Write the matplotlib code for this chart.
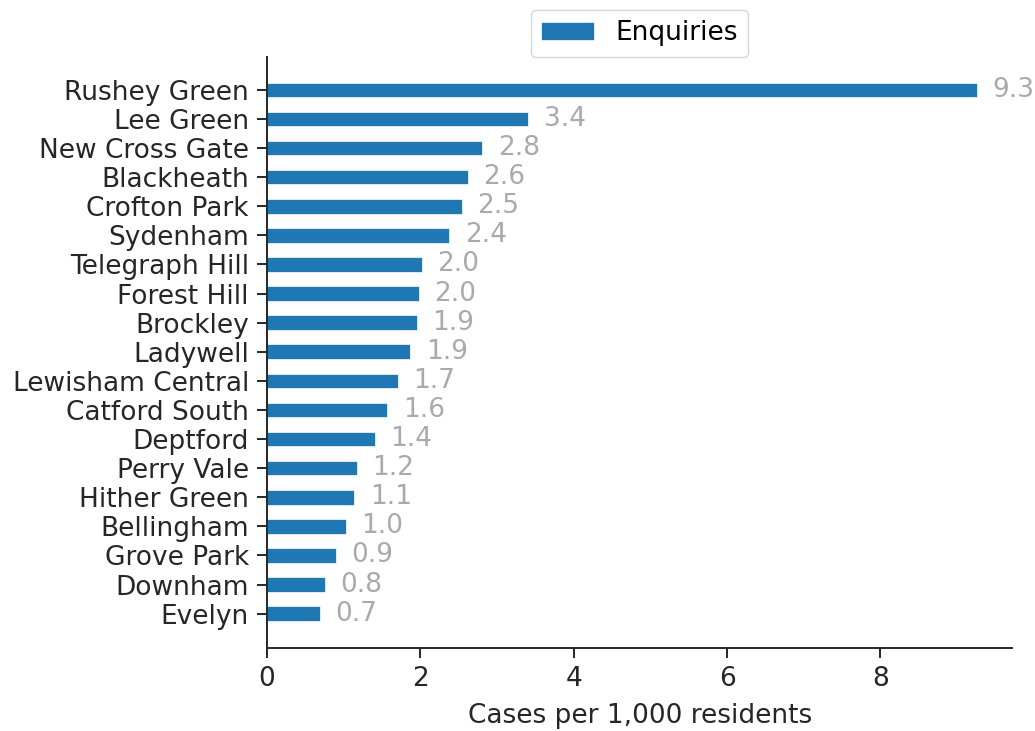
import matplotlib
matplotlib.use("Agg")
import matplotlib.pyplot as plt
import numpy as np

wards = ['Rushey Green', 'Lee Green', 'New Cross Gate', 'Blackheath', 'Crofton Park',
         'Sydenham', 'Telegraph Hill', 'Forest Hill', 'Brockley', 'Ladywell',
         'Lewisham Central', 'Catford South', 'Deptford', 'Perry Vale', 'Hither Green',
         'Bellingham', 'Grove Park', 'Downham', 'Evelyn']
enquiries = [9.26, 3.41, 2.81, 2.62, 2.54, 2.38, 2.02, 1.98, 1.95, 1.87,
             1.71, 1.57, 1.41, 1.17, 1.14, 1.03, 0.90, 0.76, 0.69]

fs = 19
fig, ax = plt.subplots(figsize=(10.35, 7.31), dpi=100)
fig.subplots_adjust(left=0.258, right=0.978, top=0.922, bottom=0.114)

y = np.arange(len(wards))[::-1]
ax.barh(y, enquiries, height=0.5, color='#1f77b4', edgecolor='white', linewidth=0.5,
        label='Enquiries')

for yi, v in zip(y, enquiries):
    ax.text(v + 0.2, yi, f'{v:.1f}', va='center', ha='left', fontsize=fs, color='#aaaaaa')

ax.set_yticks(y)
ax.set_yticklabels(wards, fontsize=fs, color='#262626')
ax.set_ylim(-1.17, len(wards) - 1 + 1.13)
ax.set_xlim(0, 9.72)
ax.set_xticks([0, 2, 4, 6, 8])
ax.tick_params(axis='x', labelsize=fs, colors='#262626', length=7, width=1.4, pad=6)
ax.tick_params(axis='y', length=7, width=1.4, colors='#262626', pad=6)
ax.set_xlabel('Cases per 1,000 residents', fontsize=fs, color='#262626', labelpad=8)

for s in ['top', 'right']:
    ax.spines[s].set_visible(False)
for s in ['left', 'bottom']:
    ax.spines[s].set_color('#262626')
    ax.spines[s].set_linewidth(1.4)

ax.legend(loc='lower center', bbox_to_anchor=(0.5, 1.0), fontsize=fs, frameon=True,
          borderaxespad=0.0)

fig.savefig('out.png')
